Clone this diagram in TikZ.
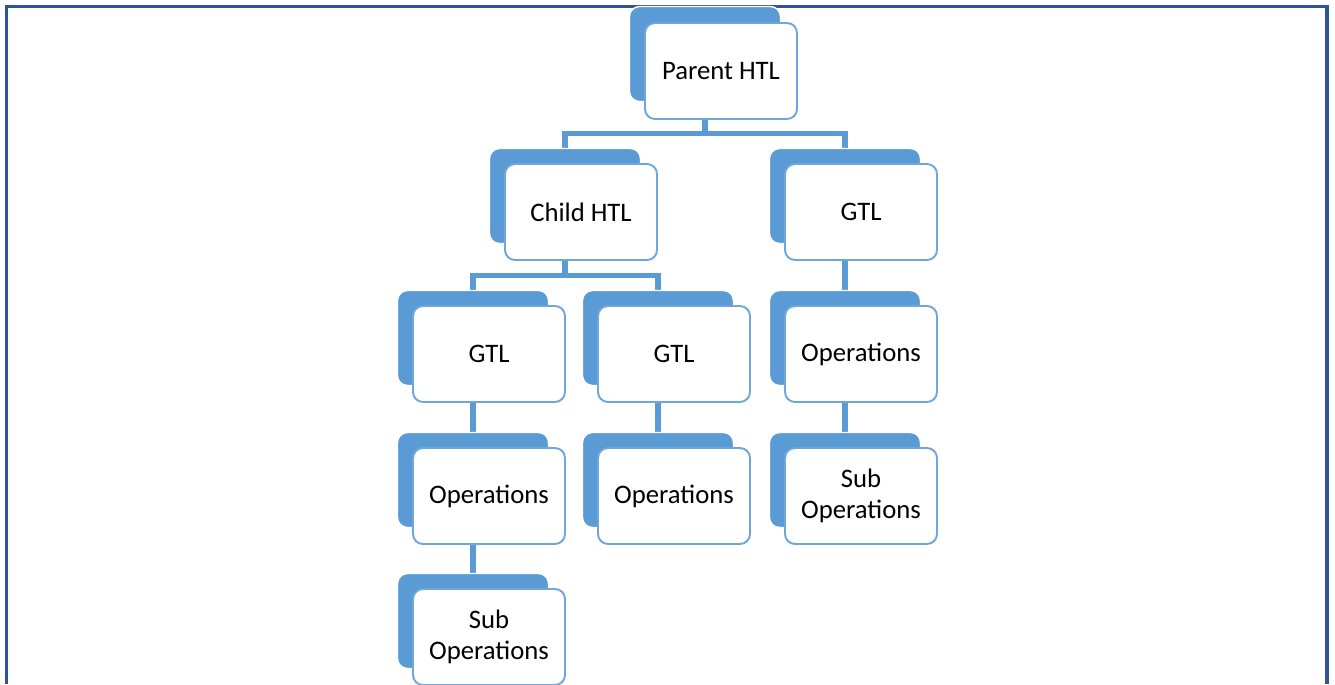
\documentclass[tikz,border=0pt]{standalone}
\usepackage{fontspec}
\setmainfont{Carlito}
\usepackage{xcolor}
\usepackage{tikz}
\usetikzlibrary{backgrounds}

\definecolor{boxblue}{HTML}{5B9BD5}
\definecolor{rimblue}{HTML}{6FA6DC}
\definecolor{frameblue}{HTML}{2F5597}

\tikzset{
  backbox/.style={draw=white, line width=0.8pt, fill=boxblue, rounded corners=0.2cm,
    minimum width=3.02cm, minimum height=1.9cm, inner sep=0pt},
  frontbox/.style={draw=rimblue, line width=1.1pt, fill=white, rounded corners=0.2cm,
    minimum width=3.04cm, minimum height=1.92cm, inner sep=0pt, align=center,
    font=\fontsize{15.2}{17.5}\selectfont},
  link/.style={draw=boxblue, line width=3pt},
}

\begin{document}
\begin{tikzpicture}[x=0.02cm, y=-0.02cm]

\useasboundingbox (0,0) rectangle (1335,684);
\draw[frameblue, line width=2.2pt] (6.5,684) -- (6.5,6.5) -- (1327,6.5) -- (1327,684);

% back boxes
\node[backbox] (parentB) at (705,54) {};
\node[backbox] (childB) at (565,196) {};
\node[backbox] (gtlRB) at (845,196) {};
\node[backbox] (gtlLB) at (473,338) {};
\node[backbox] (gtlMB) at (658,338) {};
\node[backbox] (opsRB) at (845,338) {};
\node[backbox] (opsLB) at (473,480) {};
\node[backbox] (opsMB) at (658,480) {};
\node[backbox] (subRB) at (845,480) {};
\node[backbox] (subLB) at (473,621) {};

% front boxes
\node[frontbox] (parent) at (721,71) {Parent HTL};
\node[frontbox] (child) at (581,212) {Child HTL};
\node[frontbox] (gtlR) at (861,212) {GTL};
\node[frontbox] (gtlL) at (489,354) {GTL};
\node[frontbox] (gtlM) at (674,354) {GTL};
\node[frontbox] (opsR) at (861,354) {Operations};
\node[frontbox] (opsL) at (489,496) {Operations};
\node[frontbox] (opsM) at (674,496) {Operations};
\node[frontbox] (subR) at (861,496) {Sub\\Operations};
\node[frontbox] (subL) at (489,637) {Sub\\Operations};

\begin{scope}[on background layer]
\path[link] (parentB.south) -- ++(0,31) -| (childB.north);
\path[link] (parentB.south) -- ++(0,31) -| (gtlRB.north);
\path[link] (childB.south) -- ++(0,31) -| (gtlLB.north);
\path[link] (childB.south) -- ++(0,31) -| (gtlMB.north);
\path[link] (gtlRB.south) -- (opsRB.north);
\path[link] (opsRB.south) -- (subRB.north);
\path[link] (gtlLB.south) -- (opsLB.north);
\path[link] (opsLB.south) -- (subLB.north);
\path[link] (gtlMB.south) -- (opsMB.north);
\end{scope}

\end{tikzpicture}
\end{document}
